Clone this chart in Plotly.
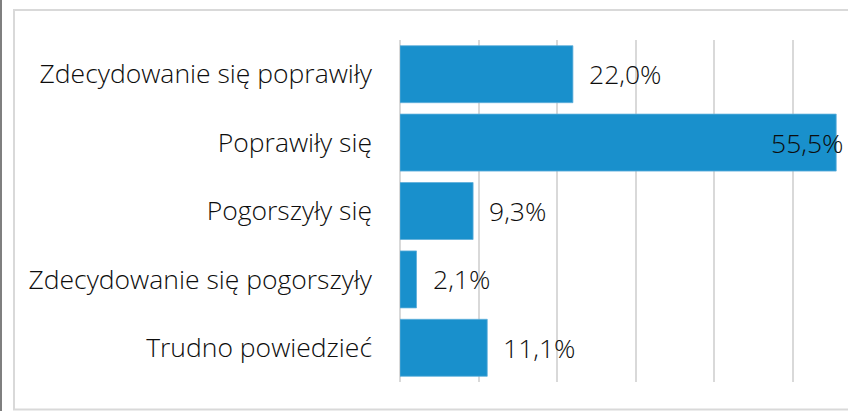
import plotly.graph_objects as go

categories = ["Zdecydowanie się poprawiły", "Poprawiły się", "Pogorszyły się",
              "Zdecydowanie się pogorszyły", "Trudno powiedzieć"]
values = [22.0, 55.5, 9.3, 2.1, 11.1]
labels = ["22,0%", "55,5%", "9,3%", "2,1%", "11,1%"]

W, H = 848, 411
L, R, T, B = 400, 0, 40, 29
pw, ph = W - L - R, H - T - B

def px(x):
    return (x - L) / pw

def py(y):
    return (H - B - y) / ph

FONT = "Open Sans"
FS = 26.5
TXT = "#0d0d0d"
BAR = "#1990CC"

fig = go.Figure(go.Bar(
    y=categories, x=values, orientation="h",
    marker=dict(color=BAR, line=dict(color="#5FAEDB", width=0.8)),
    hoverinfo="skip",
))

ann = []
for c, v, t in zip(categories, values, labels):
    if v > 50:
        ann.append(dict(x=v, y=c, xref="x", yref="y", text=t, showarrow=False,
                        xanchor="right", xshift=9,
                        font=dict(family=FONT, size=FS, color=TXT, weight=300)))
    else:
        ann.append(dict(x=v, y=c, xref="x", yref="y", text=t, showarrow=False,
                        xanchor="left", xshift=14,
                        font=dict(family=FONT, size=FS, color=TXT, weight=300)))

shapes = [
    dict(type="line", xref="paper", yref="paper", x0=px(1), x1=px(1), y0=py(-5), y1=py(420),
         line=dict(color="#7f7f7f", width=2)),
    dict(type="rect", xref="paper", yref="paper", x0=px(14), x1=px(900), y0=py(409.5), y1=py(10),
         line=dict(color="#d9d9d9", width=2)),
]

fig.update_layout(
    width=W, height=H,
    margin=dict(l=L, r=R, t=T, b=B),
    paper_bgcolor="white", plot_bgcolor="white",
    bargap=0.167,
    showlegend=False,
    annotations=ann,
    shapes=shapes,
    font=dict(family=FONT, size=FS, color=TXT, weight=300),
    xaxis=dict(range=[0, 57.0], dtick=10, showticklabels=False, showgrid=True,
               gridcolor="#d9d9d9", gridwidth=1.5, zeroline=True, zerolinecolor="#d9d9d9",
               zerolinewidth=1.5, fixedrange=True),
    yaxis=dict(autorange="reversed", showgrid=False, ticks="", ticklabelstandoff=27,
               tickfont=dict(family=FONT, size=FS, color=TXT, weight=300), fixedrange=True),
)

fig.write_html("out.html", config={"displayModeBar": False},
               post_script="document.body.style.margin='0';document.body.style.padding='0';")
